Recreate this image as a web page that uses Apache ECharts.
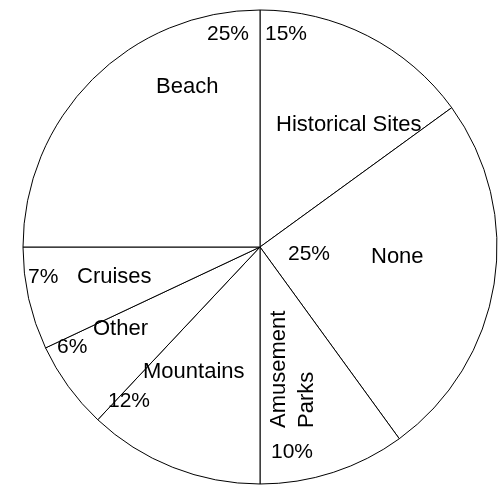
<!DOCTYPE html>
<html><head><meta charset="utf-8">
<script src="https://cdn.jsdelivr.net/npm/echarts@6/dist/echarts.min.js"></script>
<style>html,body{margin:0;padding:0;background:#fff}#c{width:500px;height:488px}</style>
</head><body><div id="c"></div>
<script>
// Data (clockwise from 12 o'clock)
const categories = ['Historical Sites', 'None', 'Amusement Parks', 'Mountains', 'Other', 'Cruises', 'Beach'];
const values = [15, 25, 10, 12, 6, 7, 25];

// Label placement (layout only)
const namePos = {
  'Historical Sites': { x: 276, y: 125 },
  'None': { x: 371, y: 257 },
  'Mountains': { x: 143, y: 372 },
  'Other': { x: 93, y: 329 },
  'Cruises': { x: 77, y: 277 },
  'Beach': { x: 156, y: 87 }
};
const pctPos = {
  'Historical Sites': { x: 265, y: 34 },
  'None': { x: 288, y: 254 },
  'Amusement Parks': { x: 271, y: 452 },
  'Mountains': { x: 108, y: 401 },
  'Other': { x: 57, y: 347 },
  'Cruises': { x: 28, y: 277 },
  'Beach': { x: 249, y: 34, align: 'right' }
};
const rotatedPos = { 'Amusement Parks': [{ x: 279, y: 428 }, { x: 307, y: 428 }] };

const FONT = '"Liberation Sans", Arial, sans-serif';
const FS = 22;

const graphics = [];
function txt(s, x, y, align, rot, fs) {
  graphics.push({
    type: 'text', x: x, y: y, rotation: rot || 0, silent: true, z: 10,
    style: { text: s, fill: '#000', fontSize: fs || FS, fontFamily: FONT, align: align || 'left', verticalAlign: 'middle' }
  });
}
categories.forEach(function (c, i) {
  if (namePos[c]) txt(c, namePos[c].x, namePos[c].y);
  if (rotatedPos[c]) {
    const parts = c.split(' ');
    parts.forEach(function (p, k) { txt(p, rotatedPos[c][k].x, rotatedPos[c][k].y, 'left', Math.PI / 2); });
  }
  const p = pctPos[c];
  txt(values[i] + '%', p.x, p.y, p.align, 0, 21);
});

const chart = echarts.init(document.getElementById('c'), null, { renderer: 'canvas' });
chart.setOption({
  backgroundColor: '#fff',
  animation: false,
  series: [{
    type: 'pie',
    center: [260, 247],
    radius: 237,
    startAngle: 90,
    clockwise: true,
    label: { show: false },
    labelLine: { show: false },
    emphasis: { disabled: true },
    itemStyle: { color: '#fff', borderColor: '#000', borderWidth: 1 },
    data: categories.map(function (c, i) { return { name: c, value: values[i] }; })
  }],
  graphic: graphics
});
</script></body></html>
